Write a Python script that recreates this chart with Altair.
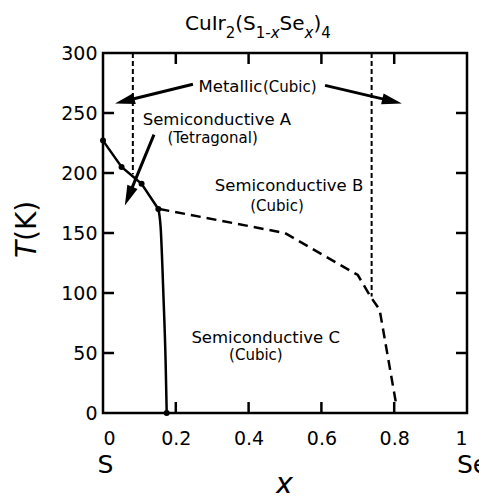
import math
import pandas as pd
import altair as alt

FONT = "DejaVu Sans"
W, H = 364, 360

# phase boundaries (x, T in K)
ab_x = [0.0, 0.051, 0.106, 0.152]
ab_T = [227, 205, 191, 170]
ac_x = [0.152, 0.1585, 0.166, 0.172, 0.175]
ac_T = [170, 154, 98, 43, 0]
bc_x = [0.155, 0.5, 0.70, 0.735, 0.76, 0.805]
bc_T = [170, 150, 115, 97, 86, 8]

# metallic / semiconducting boundaries (vertical dashes)
mt_x = [0.082, 0.738]
mt_top = [300, 300]
mt_bot = [199, 97]

# measured points
pt_x = [0.0, 0.051, 0.106, 0.152, 0.175]
pt_T = [227, 205, 191, 170, 0]

x_ticks = [0, 0.2, 0.4, 0.6, 0.8, 1]
T_ticks = [0, 50, 100, 150, 200, 250, 300]
x_minor = [0.2, 0.4, 0.6, 0.8]
T_minor = [50, 100, 150, 200, 250]

# annotation arrows: start -> tip
arrow_x0 = [0.247, 0.61, 0.14]
arrow_T0 = [274, 273, 232]
arrow_x1 = [0.033, 0.821, 0.06]
arrow_T1 = [258, 258, 173]

label_text = ["Metallic", "(Cubic)", "Semiconductive A", "(Tetragonal)",
              "Semiconductive B", "(Cubic)", "Semiconductive C", "(Cubic)"]
label_x = [0.350, 0.513, 0.313, 0.301, 0.511, 0.478, 0.447, 0.42]
label_T = [267.5, 267.5, 240, 225, 184.6, 168.3, 58.3, 44.2]
label_kind = ["main", "sub", "main", "sub", "main", "sub", "main", "sub"]

# title CuIr2(S1-xSex)4, split into normal / subscript pieces
title_parts = ["CuIr", "2", "(S", "1-", "x", "Se", "x", ")", "4"]
title_sub = [False, True, False, True, True, False, True, False, True]
title_ital = [False, False, False, False, True, False, True, False, False]
title_left = [82, 122.8, 132.3, 152.8, 167.8, 176.6, 201.6, 210.5, 218.3]

xs = alt.Scale(domain=[0, 1], nice=False)
ys = alt.Scale(domain=[0, 300], nice=False)
xaxis = alt.Axis(values=x_ticks, format="~g", title=None, labelPadding=16)
yaxis = alt.Axis(values=T_ticks, title=None, labelPadding=6)


def X(f):
    return alt.X(f, scale=xs, axis=xaxis)


def Y(f):
    return alt.Y(f, scale=ys, axis=yaxis)


def line(xv, tv, **kw):
    df = pd.DataFrame({"x": xv, "T": tv, "i": range(len(xv))})
    return alt.Chart(df).mark_line(color="black", strokeWidth=2.5, **kw).encode(
        x=X("x:Q"), y=Y("T:Q"), order="i:Q"
    )


def fixed_text(txt, px, py, size, **kw):
    return alt.Chart(pd.DataFrame({"t": [txt]})).mark_text(
        font=FONT, fontSize=size, color="black", baseline="alphabetic", **kw
    ).encode(x=alt.value(px), y=alt.value(py), text="t:N")


# arrows: shaft stops a bit short of the tip, head rotated along the shaft
arr = pd.DataFrame({"x0": arrow_x0, "T0": arrow_T0, "x1": arrow_x1, "T1": arrow_T1})
dxp = (arr.x1 - arr.x0) * W
dyp = -(arr.T1 - arr.T0) * H / 300
length = (dxp ** 2 + dyp ** 2) ** 0.5
frac = (length - 10) / length
arr["xe"] = arr.x0 + frac * (arr.x1 - arr.x0)
arr["Te"] = arr.T0 + frac * (arr.T1 - arr.T0)
arr["ang"] = [math.degrees(math.atan2(a, -b)) % 360 for a, b in zip(dxp, dyp)]

shafts = alt.Chart(arr).mark_rule(color="black", strokeWidth=3).encode(
    x=X("x0:Q"), y=Y("T0:Q"), x2="xe:Q", y2="Te:Q"
)
heads = alt.Chart(arr).mark_point(
    shape="M0,0L0.55,2L-0.55,2Z", filled=True, size=400, color="black", opacity=1
).encode(x=X("x1:Q"), y=Y("T1:Q"), angle=alt.Angle("ang:Q", scale=None))

vdash = alt.Chart(pd.DataFrame({"x": mt_x, "top": mt_top, "bot": mt_bot})).mark_rule(
    color="black", strokeWidth=2, strokeDash=[5, 3]
).encode(x=X("x:Q"), y=Y("top:Q"), y2="bot:Q")

points = alt.Chart(pd.DataFrame({"x": pt_x, "T": pt_T})).mark_circle(
    color="black", size=36, opacity=1
).encode(x=X("x:Q"), y=Y("T:Q"))

# inward ticks on all four sides
xt = pd.DataFrame({"v": x_minor})
yt = pd.DataFrame({"v": T_minor})
tick_style = dict(color="black", strokeWidth=2.5)
ticks = [
    alt.Chart(xt).mark_rule(**tick_style).encode(x=X("v:Q"), y=alt.value(H), y2=alt.value(H - 11)),
    alt.Chart(xt).mark_rule(**tick_style).encode(x=X("v:Q"), y=alt.value(0), y2=alt.value(11)),
    alt.Chart(yt).mark_rule(**tick_style).encode(y=Y("v:Q"), x=alt.value(0), x2=alt.value(11)),
    alt.Chart(yt).mark_rule(**tick_style).encode(y=Y("v:Q"), x=alt.value(W), x2=alt.value(W - 11)),
]

lab = pd.DataFrame({"x": label_x, "T": label_T, "t": label_text, "k": label_kind})
labels_main = alt.Chart(lab).transform_filter(alt.datum.k == "main").mark_text(
    font=FONT, fontSize=16.5, color="black", baseline="alphabetic"
).encode(x=X("x:Q"), y=Y("T:Q"), text="t:N")
labels_sub = alt.Chart(lab).transform_filter(alt.datum.k == "sub").mark_text(
    font=FONT, fontSize=15, color="black", baseline="alphabetic"
).encode(x=X("x:Q"), y=Y("T:Q"), text="t:N")

title = [
    fixed_text(t, px, -15 if sub else -23, 15 if sub else 20, align="left",
               fontStyle="italic" if it else "normal")
    for t, sub, it, px in zip(title_parts, title_sub, title_ital, title_left)
]

texts = [
    fixed_text("S", 2.5, 420, 25),
    fixed_text("Se", 354, 420, 25, align="left"),
    fixed_text("x", 181, 441, 30, fontStyle="italic"),
    fixed_text("T", -67, 205, 28, angle=270, align="left", fontStyle="italic"),
    fixed_text("(K)", -67, 188, 28, angle=270, align="left"),
]

chart = alt.layer(
    line(ab_x, ab_T),
    line(ac_x, ac_T, interpolate="monotone"),
    line(bc_x, bc_T, strokeDash=[10, 6]),
    vdash,
    points,
    shafts,
    heads,
    *ticks,
    labels_main,
    labels_sub,
    *title,
    *texts,
).properties(
    width=W,
    height=H,
    autosize=alt.AutoSizeParams(type="none"),
    padding={"left": 95, "top": 45, "right": 12, "bottom": 80},
    background="white",
).configure_view(
    stroke="black", strokeWidth=2.5
).configure_axis(
    labelFont=FONT, labelFontSize=19, labelColor="black",
    ticks=False, domain=False, grid=False,
)

chart.save("out.html", embed_options={"renderer": "svg", "actions": False})
